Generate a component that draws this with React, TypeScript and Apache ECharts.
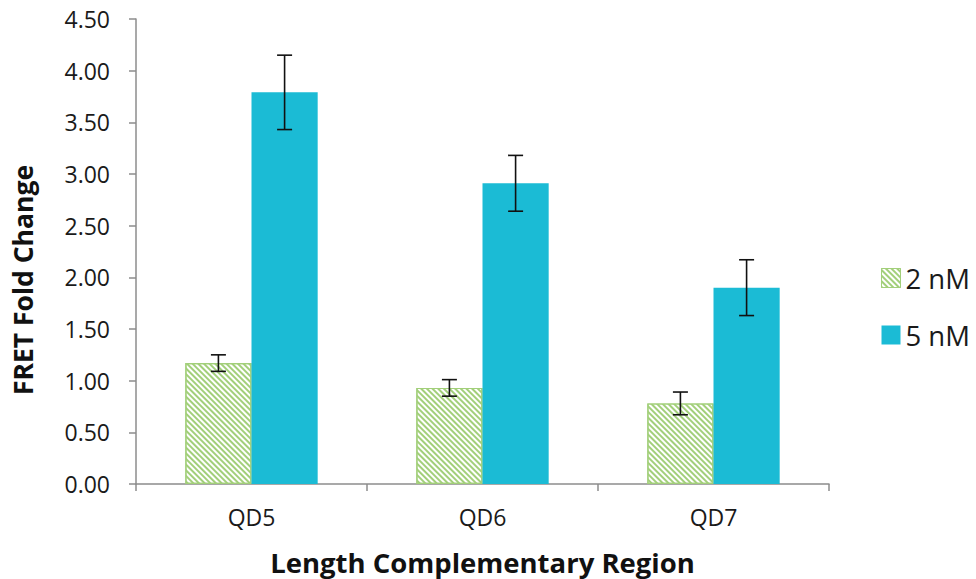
import React, { useEffect, useRef } from "react";
import * as echarts from "echarts";

// Categories and measured values
const categories = ["QD5", "QD6", "QD7"];
const seriesNames = ["2 nM", "5 nM"];
const values2nM = [1.17, 0.93, 0.78];
const errors2nM = [0.08, 0.08, 0.11];
const values5nM = [3.79, 2.91, 1.9];
const errors5nM = [0.36, 0.27, 0.27];
const yTicks = { min: 0, max: 4.5, step: 0.5 };
const yTitle = "FRET Fold Change";
const xTitle = "Length Complementary Region";

const FONT = "'Open Sans', 'Noto Sans', sans-serif";
const BLUE = "#1BBBD5";
const GREEN = "#A2CF7A";
const CATEGORY_GAP = 0.427;

function errorSeries(values: number[], errors: number[], side: number) {
  return {
    type: "custom",
    silent: true,
    z: 10,
    data: values.map((v, i) => [i, v - errors[i], v + errors[i]]),
    encode: { x: 0, y: [1, 2] },
    renderItem: (params: any, api: any) => {
      const idx = api.value(0);
      const lo = api.coord([idx, api.value(1)]);
      const hi = api.coord([idx, api.value(2)]);
      const band = api.size([1, 0])[0];
      const barW = (band * (1 - CATEGORY_GAP)) / 2;
      const x = lo[0] + (side * barW) / 2;
      const cap = 7.5;
      const style = { stroke: "#111", lineWidth: 1.6 };
      return {
        type: "group",
        children: [
          { type: "line", shape: { x1: x, y1: lo[1], x2: x, y2: hi[1] }, style },
          { type: "line", shape: { x1: x - cap, y1: hi[1], x2: x + cap, y2: hi[1] }, style },
          { type: "line", shape: { x1: x - cap, y1: lo[1], x2: x + cap, y2: lo[1] }, style },
        ],
      };
    },
  };
}

export default function App() {
  const ref = useRef<HTMLDivElement>(null);

  useEffect(() => {
    if (!ref.current) return;
    const chart = echarts.init(ref.current, undefined, { renderer: "svg" });
    chart.setOption({
      animation: false,
      backgroundColor: "#fff",
      textStyle: { fontFamily: FONT },
      grid: {
        left: 136,
        right: 147,
        top: 19,
        bottom: 95,
        containLabel: false,
        outerBoundsMode: "none",
      },
      graphic: [
        {
          type: "text",
          x: 23,
          y: 280,
          rotation: Math.PI / 2,
          style: {
            text: yTitle,
            textAlign: "center",
            textVerticalAlign: "middle",
            fontSize: 26.5,
            fontWeight: "bold",
            fontFamily: FONT,
            fill: "#111",
          },
        },
      ],
      legend: {
        orient: "vertical",
        left: 876,
        top: 259,
        icon: "rect",
        itemWidth: 19,
        itemHeight: 19,
        itemGap: 29,
        itemStyle: { borderWidth: 1 },
        data: seriesNames,
        textStyle: { fontSize: 27.5, color: "#1a1a1a", fontFamily: FONT },
      },
      xAxis: {
        type: "category",
        data: categories,
        name: xTitle,
        nameLocation: "middle",
        nameGap: 64,
        nameTextStyle: {
          fontSize: 27.5,
          lineHeight: 28,
          fontWeight: "bold",
          color: "#111",
          fontFamily: FONT,
        },
        axisLine: { lineStyle: { color: "#8c8c8c", width: 1.5 } },
        axisTick: { show: true, length: 7, lineStyle: { color: "#8c8c8c", width: 1.5 } },
        axisLabel: { fontSize: 23, color: "#1a1a1a", margin: 21 },
      },
      yAxis: {
        type: "value",
        min: yTicks.min,
        max: yTicks.max,
        interval: yTicks.step,
        splitLine: { show: false },
        axisLine: { show: true, lineStyle: { color: "#8c8c8c", width: 1.5 } },
        axisTick: { show: true, length: 7, lineStyle: { color: "#8c8c8c", width: 1.5 } },
        axisLabel: {
          fontSize: 23,
          color: "#1a1a1a",
          margin: 26,
          formatter: (v: number) => v.toFixed(2),
        },
      },
      series: [
        {
          name: seriesNames[0],
          type: "bar",
          data: values2nM,
          barGap: "0%",
          barCategoryGap: CATEGORY_GAP * 100 + "%",
          itemStyle: {
            color: "#ffffff",
            borderColor: GREEN,
            borderWidth: 1.2,
            decal: {
              symbol: "rect",
              color: GREEN,
              backgroundColor: "#ffffff",
              dashArrayX: [1, 0],
              dashArrayY: [1.3, 1.7],
              rotation: Math.PI / 4,
              symbolSize: 1,
            },
          },
        },
        {
          name: seriesNames[1],
          type: "bar",
          data: values5nM,
          barGap: "0%",
          barCategoryGap: CATEGORY_GAP * 100 + "%",
          itemStyle: { color: BLUE },
        },
        errorSeries(values2nM, errors2nM, -1),
        errorSeries(values5nM, errors5nM, 1),
      ],
    });
    return () => chart.dispose();
  }, []);

  return (
    <div
      ref={ref}
      style={{ position: "fixed", left: 0, top: 0, width: 976, height: 579 }}
    />
  );
}
